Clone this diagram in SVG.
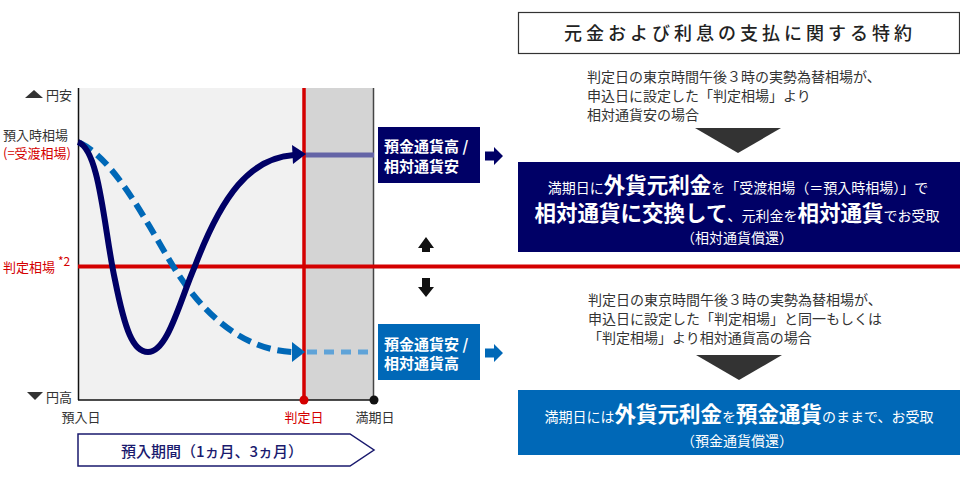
<svg xmlns="http://www.w3.org/2000/svg" width="960" height="480" viewBox="0 0 960 480">
<style>
text{font-family:"Noto Sans CJK JP","Noto Sans",sans-serif;}
.g{fill:#333;font-size:13px;}
.r{fill:#d40000;font-size:13px;}
.body{fill:#333;font-size:14px;}
.w{fill:#fff;}
.b{font-weight:bold;font-size:21.5px;}
.s{font-size:14px;}
</style>
<defs>
<path id="arr" d="M0,-4.5 L9,-4.5 L9,-9 L18,0 L9,9 L9,4.5 L0,4.5 Z"/>
</defs>

<g id="chart">
<rect x="78" y="88" width="296" height="312" fill="#f1f1f1"/>
<rect x="305" y="88" width="69" height="312" fill="#d4d4d4"/>
<line x1="78.5" y1="88" x2="78.5" y2="400" stroke="#111" stroke-width="1.5"/>
<line x1="78" y1="400" x2="374" y2="400" stroke="#111" stroke-width="1.5"/>
<line x1="373.5" y1="88" x2="373.5" y2="400" stroke="#444" stroke-width="1.5"/>
</g>

<g id="connectors">
<line x1="305" y1="155" x2="374" y2="155" stroke="#6464a6" stroke-width="5"/>
<line x1="307" y1="352" x2="374" y2="352" stroke="#5fa3d8" stroke-width="5" stroke-dasharray="10 7"/>
<line x1="78" y1="266.5" x2="960" y2="266.5" stroke="#d40000" stroke-width="4"/>
<line x1="304" y1="88" x2="304" y2="400" stroke="#d40000" stroke-width="3.5"/>
<path d="M80,143 C115,160 145,220 173,266 C200,310 240,350 293,352" fill="none" stroke="#0068b7" stroke-width="6" stroke-dasharray="14 7"/>
<polygon points="305,352 292,342 292,362" fill="#0068b7"/>
<path d="M78,142 C100,150 104,230 115,280 C125,330 133,352 148,352 C168,352 180,300 195,266 C222,195 250,158 294,155" fill="none" stroke="#000066" stroke-width="6"/>
<polygon points="306,154 292,145 293,164" fill="#000066"/>
<circle cx="304" cy="400" r="4.5" fill="#d40000"/>
<circle cx="374" cy="400" r="4.5" fill="#111"/>
<use href="#arr" x="485" y="156" fill="#000066"/>
<use href="#arr" x="485" y="353" fill="#0068b7"/>
<polygon points="426,237 418,248 422,248 422,252 430,252 430,248 434,248" fill="#111"/>
<polygon points="426,297 418,287 422,287 422,278 430,278 430,287 434,287" fill="#111"/>
<polygon points="695,128 781,128 738,153" fill="#333"/>
<polygon points="696,355 782,355 739,380" fill="#333"/>
</g>

<g id="axis-labels">
<polygon points="25,98 34,90 43,98" fill="#333"/>
<text class="g" x="46" y="100">円安</text>
<polygon points="27,392 43,392 35,400" fill="#333"/>
<text class="g" x="46" y="402">円高</text>
<text class="g" x="3" y="140" style="font-size:13px">預入時相場</text>
<text class="r" x="3" y="158" style="font-size:13px">(=受渡相場)</text>
<text class="r" x="3" y="272">判定相場 <tspan font-size="12" dy="-6">*2</tspan></text>
<text class="g" x="81" y="422" text-anchor="middle">預入日</text>
<text class="r" x="304" y="422" text-anchor="middle">判定日</text>
<text class="g" x="375" y="422" text-anchor="middle">満期日</text>
</g>

<g id="period">
<polygon points="78,434 350,434 374,450 350,466 78,466" fill="#fff" stroke="#1a1a6e" stroke-width="1.5"/>
<text x="212" y="457" text-anchor="middle" fill="#1a1a6e" font-size="15" font-weight="500">預入期間（1ヵ月、3ヵ月）</text>
</g>

<g id="box-high">
<rect x="378" y="127" width="102" height="56" fill="#000066"/>
<text class="w" x="384" y="152" font-size="15" font-weight="bold">預金通貨高 /</text>
<text class="w" x="384" y="172" font-size="15" font-weight="bold">相対通貨安</text>
</g>

<g id="box-low">
<rect x="378" y="324" width="102" height="56" fill="#0068b7"/>
<text class="w" x="384" y="350" font-size="15" font-weight="bold">預金通貨安 /</text>
<text class="w" x="384" y="369" font-size="15" font-weight="bold">相対通貨高</text>
</g>

<g id="title">
<rect x="518.5" y="12.5" width="441" height="41" fill="#fff" stroke="#333" stroke-width="1.2"/>
<text x="740" y="40" text-anchor="middle" fill="#222" font-size="18" font-weight="500" letter-spacing="4">元金および利息の支払に関する特約</text>
</g>

<g id="cond-1">
<text class="body" x="587" y="82">判定日の東京時間午後３時の実勢為替相場が、</text>
<text class="body" x="587" y="101">申込日に設定した「判定相場」より</text>
<text class="body" x="587" y="120">相対通貨安の場合</text>
</g>

<g id="result-1">
<rect x="518" y="162" width="442" height="90" fill="#000066"/>
<text class="w" x="738" y="193" text-anchor="middle"><tspan class="s" font-size="15">満期日に</tspan><tspan class="b">外貨元利金</tspan><tspan class="s" font-size="14.5">を「受渡相場（＝預入時相場）」で</tspan></text>
<text class="w" x="737" y="221" text-anchor="middle"><tspan class="b">相対通貨に交換して</tspan><tspan class="s">、元利金を</tspan><tspan class="b">相対通貨</tspan><tspan class="s">でお受取</tspan></text>
<text class="w" x="737" y="243" text-anchor="middle" font-size="14">（相対通貨償還）</text>
</g>

<g id="cond-2">
<text class="body" x="588" y="305">判定日の東京時間午後３時の実勢為替相場が、</text>
<text class="body" x="588" y="324">申込日に設定した「判定相場」と同一もしくは</text>
<text class="body" x="588" y="343">「判定相場」より相対通貨高の場合</text>
</g>

<g id="result-2">
<rect x="518" y="390" width="442" height="65" fill="#0068b7"/>
<text class="w" x="739" y="422" text-anchor="middle"><tspan class="s">満期日には</tspan><tspan class="b">外貨元利金</tspan><tspan class="s">を</tspan><tspan class="b">預金通貨</tspan><tspan class="s">のままで、お受取</tspan></text>
<text class="w" x="737" y="446" text-anchor="middle" font-size="14">（預金通貨償還）</text>
</g>
</svg>
